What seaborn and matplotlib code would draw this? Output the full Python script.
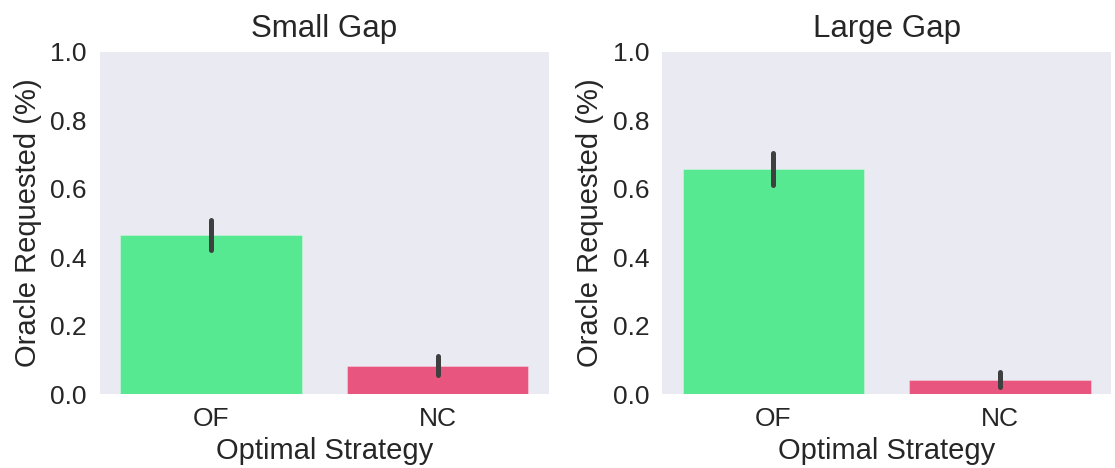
import matplotlib
matplotlib.use("Agg")
import matplotlib.pyplot as plt
import seaborn as sns
import pandas as pd

# Mean share of oracle requests per optimal strategy, with 95% CI bounds
strategies = ["OF", "NC"]
panels = ["Small Gap", "Large Gap"]
small_mean = [0.465, 0.082]
small_low = [0.420, 0.057]
small_high = [0.510, 0.110]
large_mean = [0.658, 0.041]
large_low = [0.612, 0.022]
large_high = [0.704, 0.064]

bar_colors = ["#57E991", "#E8557F"]

sns.set_theme(style="dark")
plt.rcParams["font.family"] = ["Liberation Sans", "DejaVu Sans"]
plt.rcParams["text.color"] = "#262626"
plt.rcParams["axes.labelcolor"] = "#262626"
plt.rcParams["xtick.color"] = "#262626"
plt.rcParams["ytick.color"] = "#262626"

fig, axes = plt.subplots(1, 2, figsize=(11.15, 4.68), dpi=100)
fig.subplots_adjust(left=0.0897, right=0.9964, top=0.889, bottom=0.158, wspace=0.254)

series = [
    (small_mean, small_low, small_high),
    (large_mean, large_low, large_high),
]

for ax, title, (mean, low, high) in zip(axes, panels, series):
    df = pd.DataFrame({"Optimal Strategy": strategies, "Oracle Requested": mean})
    sns.barplot(
        data=df, x="Optimal Strategy", y="Oracle Requested",
        hue="Optimal Strategy", palette=bar_colors, legend=False,
        errorbar=None, width=0.8, saturation=1, linewidth=0.6,
        edgecolor=(1, 1, 1, 0.35), ax=ax,
    )
    for i, (lo, hi) in enumerate(zip(low, high)):
        ax.plot([i, i], [lo, hi], color="#3F3F3F", linewidth=3.6,
                solid_capstyle="round", zorder=3)
    ax.set_ylim(0, 1.0)
    ax.set_yticks([0.0, 0.2, 0.4, 0.6, 0.8, 1.0])
    ax.set_title(title, fontsize=22.5, pad=11)
    ax.set_xlabel("Optimal Strategy", fontsize=21, labelpad=4)
    ax.set_ylabel("Oracle Requested (%)", fontsize=21, labelpad=6)
    ax.tick_params(axis="both", labelsize=19)
    for s in ax.spines.values():
        s.set_visible(False)

fig.savefig("out.png", dpi=100)
